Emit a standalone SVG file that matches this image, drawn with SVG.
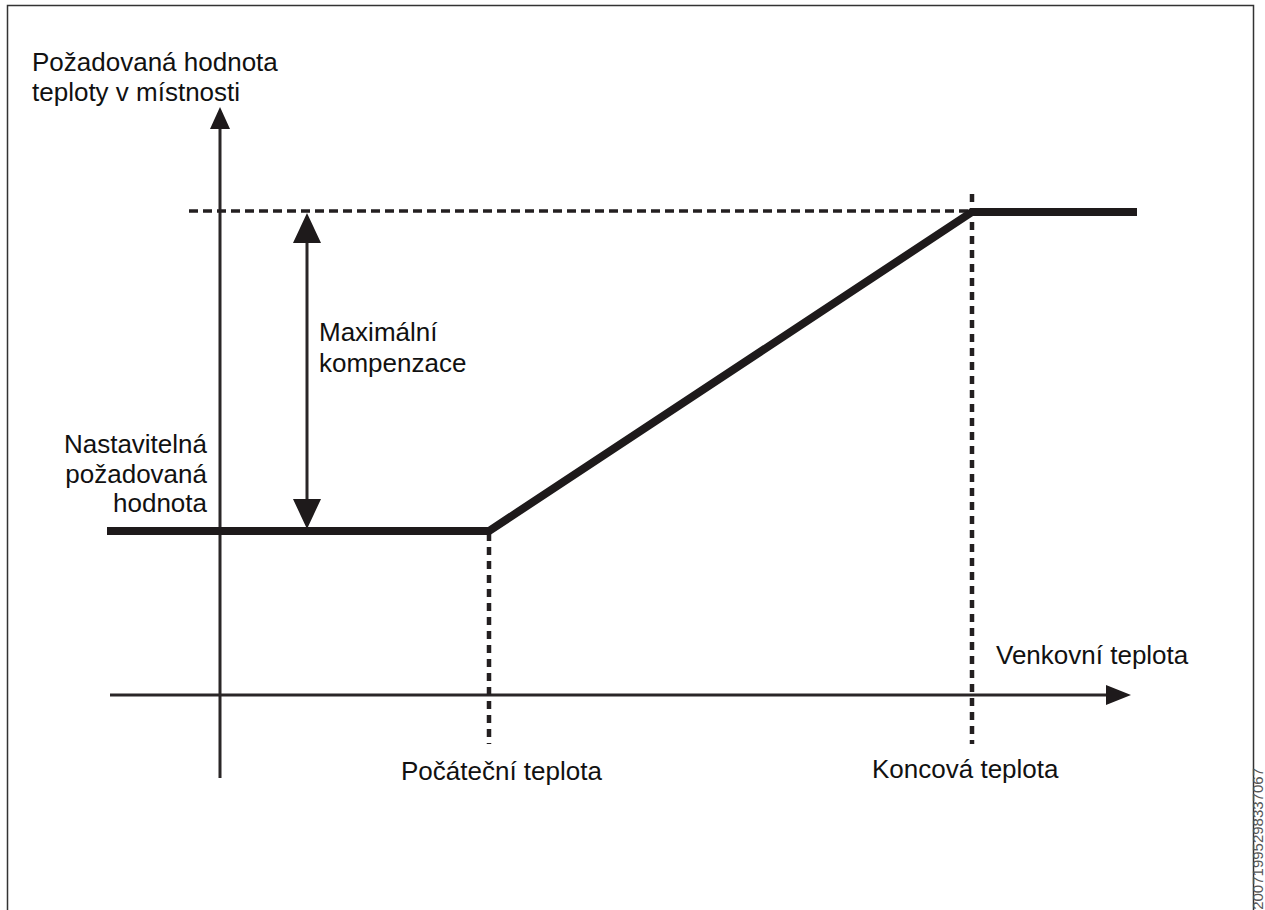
<svg xmlns="http://www.w3.org/2000/svg" width="1265" height="910" viewBox="0 0 1265 910">
<style>
text{font-family:"Liberation Sans",Arial,sans-serif;font-size:26px;fill:#111}
.axis{stroke:#2a2627;stroke-width:3;fill:none}
.dash{stroke:#231f20;stroke-width:3.5;fill:none;stroke-dasharray:9 5}
.vdash{stroke:#231f20;stroke-width:4.5;fill:none;stroke-dasharray:8 6}
.thick{stroke:#1e1a1b;stroke-width:8;fill:none;stroke-linejoin:miter}
.head{fill:#1e1a1b}
</style>
<rect x="7.5" y="5.5" width="1246" height="930" fill="#fff" stroke="#333" stroke-width="1.5"/>
<g id="connectors">
  <line class="axis" x1="220" y1="125" x2="220" y2="778"/>
  <polygon class="head" points="220,107 210,129 230,129"/>
  <line class="axis" x1="110" y1="695" x2="1110" y2="695"/>
  <polygon class="head" points="1131,695 1106,685 1106,705"/>
  <line class="dash" x1="189" y1="211" x2="973" y2="211"/>
  <line class="vdash" x1="489" y1="533" x2="489" y2="744"/>
  <line class="vdash" x1="972" y1="194" x2="972" y2="744"/>
  <line class="axis" x1="307" y1="240" x2="307" y2="502"/>
  <polygon class="head" points="307,213 293,243 321,243"/>
  <polygon class="head" points="307,529 293,499 321,499"/>
  <polyline class="thick" points="107,531 489,531 972,212 1137,212"/>
</g>
<g id="y-label"><text x="32" y="71">Požadovaná hodnota</text><text x="32" y="101">teploty v místnosti</text></g>
<g id="max-comp"><text x="319" y="341">Maximální</text><text x="319" y="372">kompenzace</text></g>
<g id="setpoint"><text x="207" y="453" text-anchor="end">Nastavitelná</text><text x="207" y="483" text-anchor="end">požadovaná</text><text x="207" y="512" text-anchor="end">hodnota</text></g>
<g id="x-label"><text x="996" y="664">Venkovní teplota</text></g>
<g id="start-temp"><text x="401" y="780">Počáteční teplota</text></g>
<g id="end-temp"><text x="872" y="778">Koncová teplota</text></g>
<text transform="translate(1263,768) rotate(-90)" text-anchor="end" style="font-size:15px;fill:#555">20071995298337067</text>
</svg>
